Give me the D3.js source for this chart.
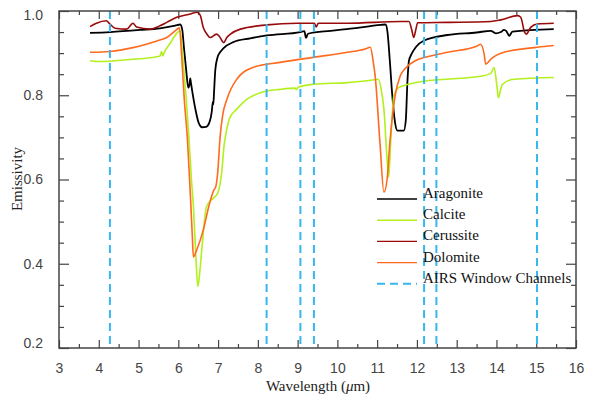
<!DOCTYPE html>
<html>
<head>
<meta charset="utf-8">
<script src="https://cdn.jsdelivr.net/npm/d3@7"></script>
<style>
  body { margin: 0; background: #fff; }
  svg { display: block; }
</style>
</head>
<body>
<svg id="chart" width="593" height="399"></svg>
<script>
// emissivity spectra: [wavelength (um), emissivity]
const aragonite = [
  [3.78,0.948],[4.28,0.950],[5.04,0.955],[5.54,0.959],[5.92,0.965],[6.05,0.968],[6.10,0.955],[6.14,0.915],
  [6.20,0.858],[6.25,0.818],[6.28,0.825],[6.30,0.840],[6.32,0.828],[6.35,0.810],[6.43,0.767],[6.51,0.735],
  [6.60,0.724],[6.70,0.725],[6.78,0.735],[6.84,0.760],[6.87,0.785],[6.88,0.778],[6.90,0.810],[6.93,0.860],
  [6.98,0.888],[7.05,0.902],[7.14,0.912],[7.38,0.926],[7.81,0.935],[8.23,0.942],[9.07,0.950],[9.17,0.952],
  [9.21,0.936],[9.26,0.946],[9.83,0.953],[10.33,0.958],[11.09,0.967],[11.21,0.968],[11.26,0.950],[11.32,0.880],
  [11.38,0.800],[11.45,0.735],[11.51,0.716],[11.67,0.716],[11.72,0.740],[11.76,0.830],[11.80,0.882],[11.86,0.897],
  [11.97,0.914],[12.18,0.930],[12.77,0.943],[13.50,0.949],[13.86,0.953],[13.98,0.947],[14.11,0.950],[14.19,0.955],
  [14.25,0.952],[14.32,0.941],[14.40,0.951],[15.44,0.957]
];
const calcite = [
  [3.78,0.882],[4.03,0.880],[4.79,0.885],[5.29,0.889],[5.54,0.893],[5.58,0.904],[5.61,0.893],[5.63,0.898],
  [5.80,0.924],[5.96,0.947],[6.05,0.953],[6.10,0.905],[6.20,0.790],[6.27,0.695],[6.33,0.600],[6.38,0.536],
  [6.44,0.420],[6.49,0.346],[6.54,0.380],[6.59,0.433],[6.71,0.536],[6.84,0.552],[6.93,0.560],[7.00,0.570],
  [7.09,0.616],[7.15,0.680],[7.22,0.720],[7.30,0.748],[7.47,0.767],[7.72,0.790],[8.06,0.806],[8.56,0.814],
  [8.93,0.817],[8.97,0.813],[9.01,0.819],[9.40,0.826],[10.25,0.830],[10.80,0.835],[11.03,0.838],[11.10,0.815],
  [11.17,0.767],[11.25,0.648],[11.29,0.605],[11.34,0.688],[11.42,0.798],[11.54,0.818],[11.79,0.826],[12.20,0.834],
  [12.93,0.839],[13.60,0.845],[13.86,0.852],[13.94,0.866],[14.01,0.823],[14.05,0.794],[14.10,0.812],[14.15,0.826],
  [14.44,0.838],[15.44,0.842]
];
const cerussite = [
  [3.78,0.963],[3.94,0.971],[4.19,0.977],[4.28,0.969],[4.41,0.959],[4.70,0.957],[4.86,0.971],[4.95,0.962],
  [5.29,0.957],[5.54,0.965],[5.71,0.973],[5.96,0.985],[6.30,0.993],[6.47,0.997],[6.55,0.990],[6.63,0.960],
  [6.72,0.945],[6.80,0.937],[6.96,0.945],[7.03,0.940],[7.14,0.925],[7.22,0.937],[7.31,0.945],[7.56,0.957],
  [8.23,0.967],[8.99,0.971],[9.42,0.971],[9.47,0.962],[9.52,0.971],[10.25,0.971],[11.59,0.975],[11.80,0.975],
  [11.87,0.955],[11.92,0.937],[11.97,0.955],[12.02,0.972],[12.77,0.973],[13.86,0.975],[14.11,0.979],[14.53,0.989],
  [14.61,0.985],[14.71,0.949],[14.75,0.945],[14.86,0.961],[15.03,0.969],[15.44,0.971]
];
const dolomite = [
  [3.78,0.902],[4.28,0.904],[4.86,0.913],[5.46,0.929],[5.71,0.937],[5.92,0.953],[6.03,0.960],[6.08,0.900],
  [6.15,0.790],[6.23,0.695],[6.30,0.570],[6.35,0.470],[6.38,0.416],[6.45,0.430],[6.63,0.481],[6.79,0.545],
  [6.90,0.576],[6.94,0.582],[6.99,0.616],[7.05,0.700],[7.12,0.755],[7.22,0.790],[7.47,0.838],[7.88,0.866],
  [8.56,0.878],[9.40,0.890],[10.25,0.902],[10.70,0.910],[10.83,0.914],[10.90,0.880],[10.95,0.846],[11.07,0.688],
  [11.17,0.570],[11.25,0.600],[11.32,0.688],[11.45,0.798],[11.58,0.846],[11.71,0.864],[11.96,0.882],[12.21,0.890],
  [12.77,0.902],[13.52,0.917],[13.60,0.921],[13.69,0.898],[13.73,0.874],[13.86,0.886],[14.19,0.902],[15.03,0.914],
  [15.44,0.918]
];
const airsChannels = [4.28, 8.22, 9.07, 9.41, 12.18, 12.49, 15.02];

const seriesNames = ["Aragonite", "Calcite", "Cerussite", "Dolomite"];
const seriesData = [aragonite, calcite, cerussite, dolomite];
const seriesColors = ["#000000", "#b2f01e", "#990a0a", "#ff6a1e"];
const airsColor = "#38b6ee";

const xMajor = d3.range(3, 17, 1);
const xMinor = d3.range(3.5, 16, 1);
const yMajor = [0.2, 0.4, 0.6, 0.8, 1.0];
const yMinor = d3.range(0.25, 1.0, 0.05).filter(v => Math.abs(v * 5 - Math.round(v * 5)) > 0.01);

const svg = d3.select("#chart");
const plotLeft = 59, plotRight = 576, plotTop = 11, plotBottom = 348;

const x = d3.scaleLinear().domain([3, 16]).range([plotLeft, plotRight]);
const y = d3.scaleLinear().domain([0.2, 1.0]).range([plotBottom, plotTop]);

const axisColor = "#444";

function styleAxis(g) {
  g.select(".domain").remove();
  g.selectAll(".tick line").attr("stroke", axisColor).attr("stroke-width", 1.2);
  g.selectAll(".tick text").attr("fill", "#444")
    .style("font-family", "'Liberation Sans', Arial, sans-serif").style("font-size", "14px");
}

// bottom axis: labels + inward ticks
svg.append("g").attr("transform", `translate(0,${plotBottom})`)
  .call(d3.axisBottom(x).tickValues(xMajor).tickSize(-8).tickPadding(15).tickFormat(d3.format("d")))
  .call(styleAxis);
svg.append("g").attr("transform", `translate(0,${plotBottom})`)
  .call(d3.axisBottom(x).tickValues(xMinor).tickSize(-4).tickFormat(""))
  .call(styleAxis);
// top axis
svg.append("g").attr("transform", `translate(0,${plotTop})`)
  .call(d3.axisTop(x).tickValues(xMajor).tickSize(-8).tickFormat(""))
  .call(styleAxis);
svg.append("g").attr("transform", `translate(0,${plotTop})`)
  .call(d3.axisTop(x).tickValues(xMinor).tickSize(-4).tickFormat(""))
  .call(styleAxis);
// left axis
const yAx = svg.append("g").attr("transform", `translate(${plotLeft},0)`)
  .call(d3.axisLeft(y).tickValues(yMajor).tickSize(-10).tickPadding(16).tickFormat(d3.format(".1f")))
  .call(styleAxis);
yAx.selectAll(".tick text").attr("dy", d => d === 0.2 ? "-0.05em" : d === 1.0 ? "0.62em" : "0.32em");
svg.append("g").attr("transform", `translate(${plotLeft},0)`)
  .call(d3.axisLeft(y).tickValues(yMinor).tickSize(-5).tickFormat(""))
  .call(styleAxis);
// right axis
svg.append("g").attr("transform", `translate(${plotRight},0)`)
  .call(d3.axisRight(y).tickValues(yMajor).tickSize(-10).tickFormat(""))
  .call(styleAxis);
svg.append("g").attr("transform", `translate(${plotRight},0)`)
  .call(d3.axisRight(y).tickValues(yMinor).tickSize(-5).tickFormat(""))
  .call(styleAxis);

// curves
const line = d3.line()
  .x(d => x(d[0]))
  .y(d => y(d[1]))
  .curve(d3.curveMonotoneX);

svg.append("g").selectAll("path")
  .data(seriesData)
  .enter().append("path")
  .attr("d", line)
  .attr("fill", "none")
  .attr("stroke", (d, i) => seriesColors[i])
  .attr("stroke-width", (d, i) => i === 0 ? 1.8 : 1.6)
  .attr("stroke-linejoin", "round");

// AIRS window channels
svg.append("g").selectAll("line")
  .data(airsChannels)
  .enter().append("line")
  .attr("x1", d => x(d)).attr("x2", d => x(d))
  .attr("y1", plotTop).attr("y2", plotBottom)
  .attr("stroke", airsColor)
  .attr("stroke-width", 2)
  .attr("stroke-dasharray", "8,5");

// frame
svg.append("rect")
  .attr("x", plotLeft).attr("y", plotTop)
  .attr("width", plotRight - plotLeft).attr("height", plotBottom - plotTop)
  .attr("fill", "none").attr("stroke", axisColor).attr("stroke-width", 1.5);

// axis titles
const serif = "'Liberation Serif', 'Times New Roman', serif";
const xt = svg.append("text")
  .attr("x", 318).attr("y", 391)
  .attr("text-anchor", "middle")
  .style("font-family", serif).style("font-size", "15px").attr("fill", "#222");
xt.append("tspan").text("Wavelength (");
xt.append("tspan").style("font-style", "italic").text("μ");
xt.append("tspan").text("m)");

svg.append("text")
  .attr("transform", "translate(22,179) rotate(-90)")
  .attr("text-anchor", "middle")
  .style("font-family", serif).style("font-size", "15px").attr("fill", "#222")
  .text("Emissivity");

// legend
const legendRows = seriesNames.concat(["AIRS Window Channels"]);
const legend = svg.append("g").selectAll("g")
  .data(legendRows)
  .enter().append("g")
  .attr("transform", (d, i) => `translate(377,${199 + i * 21.2})`);

legend.append("line")
  .attr("x1", 0).attr("x2", 40)
  .attr("stroke", (d, i) => i < 4 ? seriesColors[i] : airsColor)
  .attr("stroke-width", (d, i) => i < 4 ? 1.4 : 2)
  .attr("stroke-dasharray", (d, i) => i < 4 ? null : "8,5");

legend.append("text")
  .attr("x", 46).attr("y", -1)
  .style("font-family", serif).style("font-size", "15px").attr("fill", "#111")
  .text(d => d);
</script>
</body>
</html>
